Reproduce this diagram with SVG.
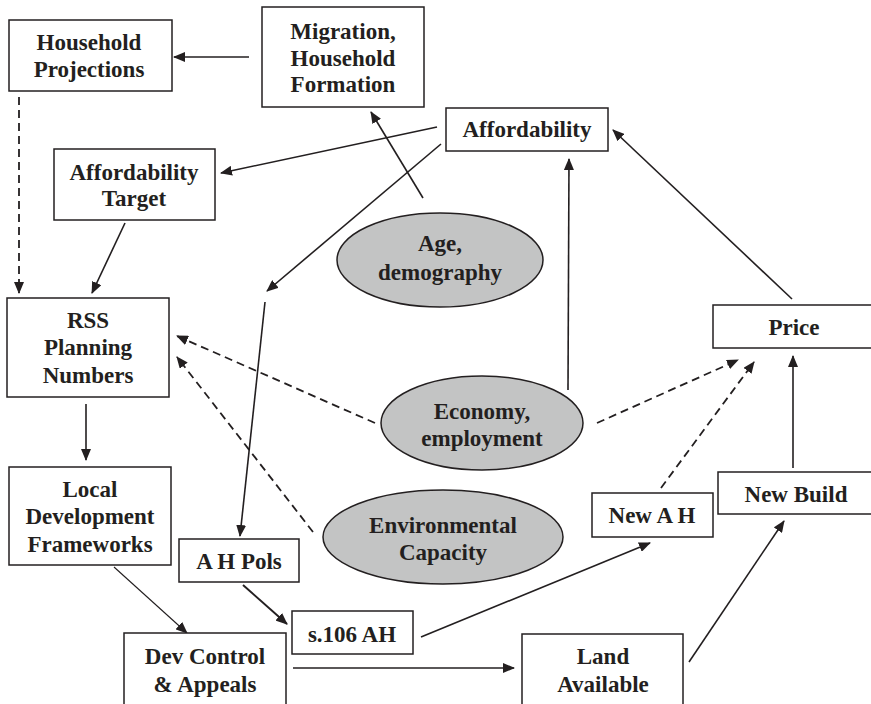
<svg xmlns="http://www.w3.org/2000/svg" width="871" height="704" viewBox="0 0 871 704">
<defs>
<marker id="ah" viewBox="0 0 12 10" refX="11" refY="5" markerWidth="12" markerHeight="10" markerUnits="userSpaceOnUse" orient="auto">
<path d="M0,0 L12,5 L0,10 Z" fill="#231f20"/>
</marker>
<style>
.box{fill:#fff;stroke:#231f20;stroke-width:1.5}
.ell{fill:#c3c4c4;stroke:#231f20;stroke-width:1.5}
.lbl text{font-weight:bold;font-size:23px;fill:#231f20;text-anchor:middle}
.c{stroke:#231f20;stroke-width:1.6;fill:none}
.t{stroke-width:1.1}
.k{stroke-width:2}
.d{stroke-dasharray:8,5;stroke-width:1.8}
</style>
</defs>
<rect width="871" height="704" fill="#fff"/>
<g id="connectors">
<line class="c" x1="249" y1="57" x2="174" y2="57" marker-end="url(#ah)"/>
<line class="c d" x1="19" y1="97" x2="19" y2="293" marker-end="url(#ah)"/>
<line class="c" x1="437" y1="127" x2="221" y2="173" marker-end="url(#ah)"/>
<line class="c" x1="441" y1="144" x2="267" y2="291" marker-end="url(#ah)"/>
<line class="c" x1="265" y1="302" x2="240" y2="536" marker-end="url(#ah)"/>
<line class="c" x1="423" y1="198" x2="371" y2="112" marker-end="url(#ah)"/>
<line class="c" x1="125" y1="223" x2="92" y2="293" marker-end="url(#ah)"/>
<line class="c" x1="86" y1="404" x2="86" y2="460" marker-end="url(#ah)"/>
<line class="c d" x1="375" y1="423" x2="177" y2="336" marker-end="url(#ah)"/>
<line class="c d" x1="313" y1="532" x2="177" y2="357" marker-end="url(#ah)"/>
<line class="c" x1="568" y1="390" x2="569" y2="159" marker-end="url(#ah)"/>
<line class="c" x1="792" y1="299" x2="613" y2="130" marker-end="url(#ah)"/>
<line class="c d" x1="597" y1="423" x2="738" y2="360" marker-end="url(#ah)"/>
<line class="c d" x1="661" y1="488" x2="754" y2="362" marker-end="url(#ah)"/>
<line class="c" x1="793" y1="468" x2="793" y2="356" marker-end="url(#ah)"/>
<line class="c t" x1="114" y1="567" x2="187" y2="633" marker-end="url(#ah)"/>
<line class="c k" x1="243" y1="585" x2="287" y2="624" marker-end="url(#ah)"/>
<line class="c" x1="293" y1="668" x2="514" y2="668" marker-end="url(#ah)"/>
<line class="c" x1="421" y1="637" x2="650" y2="543" marker-end="url(#ah)"/>
<line class="c" x1="689" y1="662" x2="784" y2="521" marker-end="url(#ah)"/>
</g>
<g class="lbl" font-family="'Liberation Serif', 'Times New Roman', Times, serif">
<g id="household-projections"><rect class="box" x="9" y="20" width="163" height="71"/><text x="89" y="50">Household</text><text x="89" y="77">Projections</text></g>
<g id="migration"><rect class="box" x="262" y="7" width="162" height="100"/><text x="343" y="39">Migration,</text><text x="343" y="66">Household</text><text x="343" y="92">Formation</text></g>
<g id="affordability-target"><rect class="box" x="54" y="149" width="161" height="71"/><text x="134" y="180">Affordability</text><text x="134" y="206">Target</text></g>
<g id="affordability"><rect class="box" x="446" y="108" width="162" height="43"/><text x="527" y="137">Affordability</text></g>
<g id="age"><ellipse class="ell" cx="440" cy="260" rx="103" ry="47"/><text x="440" y="251">Age,</text><text x="440" y="280">demography</text></g>
<g id="rss"><rect class="box" x="7" y="298" width="162" height="99"/><text x="88" y="328">RSS</text><text x="88" y="355">Planning</text><text x="88" y="383">Numbers</text></g>
<g id="economy"><ellipse class="ell" cx="482" cy="423" rx="101" ry="47"/><text x="482" y="419">Economy,</text><text x="482" y="446">employment</text></g>
<g id="price"><rect class="box" x="713" y="305" width="165" height="43"/><text x="794" y="335">Price</text></g>
<g id="environmental"><ellipse class="ell" cx="443" cy="537" rx="120" ry="47"/><text x="443" y="533">Environmental</text><text x="443" y="560">Capacity</text></g>
<g id="ldf"><rect class="box" x="9" y="467" width="162" height="98"/><text x="90" y="497">Local</text><text x="90" y="524">Development</text><text x="90" y="552">Frameworks</text></g>
<g id="ah-pols"><rect class="box" x="179" y="539" width="120" height="43"/><text x="239" y="569">A H Pols</text></g>
<g id="s106"><rect class="box" x="292" y="611" width="121" height="43"/><text x="352" y="642">s.106 AH</text></g>
<g id="new-ah"><rect class="box" x="592" y="493" width="121" height="44"/><text x="652" y="523">New A H</text></g>
<g id="new-build"><rect class="box" x="718" y="472" width="160" height="42"/><text x="796" y="502">New Build</text></g>
<g id="dev-control"><rect class="box" x="124" y="633" width="162" height="80"/><text x="205" y="664">Dev Control</text><text x="205" y="692">&amp; Appeals</text></g>
<g id="land"><rect class="box" x="522" y="634" width="161" height="80"/><text x="603" y="664">Land</text><text x="603" y="692">Available</text></g>
</g>
</svg>
